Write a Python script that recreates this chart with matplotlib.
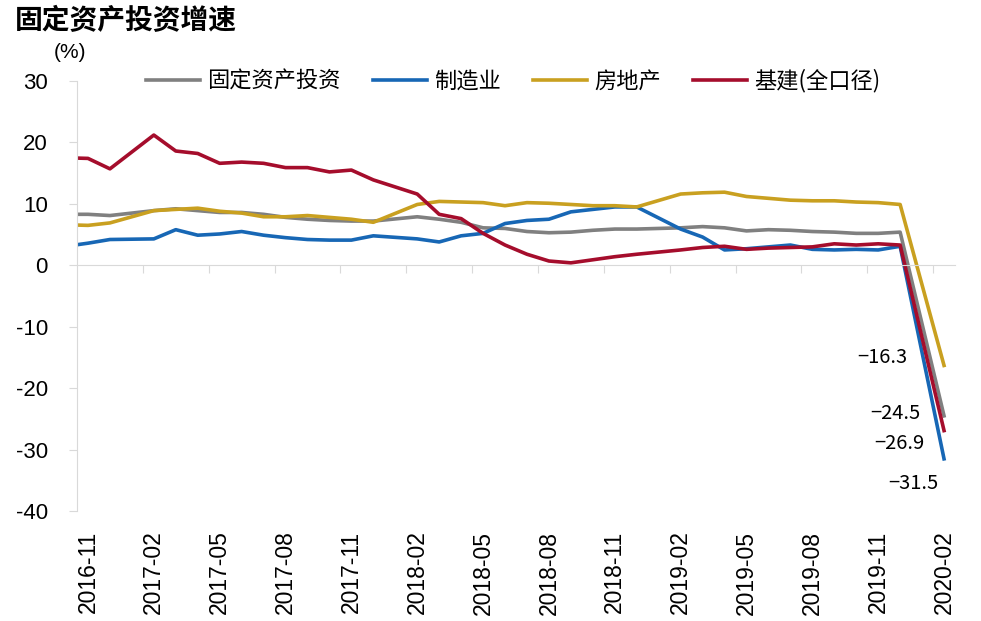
import numpy as np
import matplotlib
matplotlib.use("Agg")
import matplotlib.pyplot as plt

plt.rcParams['font.family'] = ['Liberation Sans', 'Noto Sans CJK SC', 'DejaVu Sans']
plt.rcParams['axes.unicode_minus'] = False

# mesi con dato (gennaio assente), 2016-10 fuori asse
months = ['2016-10', '2016-11', '2016-12',
          '2017-02', '2017-03', '2017-04', '2017-05', '2017-06', '2017-07',
          '2017-08', '2017-09', '2017-10', '2017-11', '2017-12',
          '2018-02', '2018-03', '2018-04', '2018-05', '2018-06', '2018-07',
          '2018-08', '2018-09', '2018-10', '2018-11', '2018-12',
          '2019-02', '2019-03', '2019-04', '2019-05', '2019-06', '2019-07',
          '2019-08', '2019-09', '2019-10', '2019-11', '2019-12',
          '2020-02']

fai = [8.3, 8.3, 8.1,
       8.9, 9.2, 8.9, 8.6, 8.6, 8.3, 7.8, 7.5, 7.3, 7.2, 7.2,
       7.9, 7.5, 7.0, 6.1, 6.0, 5.5, 5.3, 5.4, 5.7, 5.9, 5.9,
       6.1, 6.3, 6.1, 5.6, 5.8, 5.7, 5.5, 5.4, 5.2, 5.2, 5.4,
       -24.5]
manuf = [3.1, 3.6, 4.2,
         4.3, 5.8, 4.9, 5.1, 5.5, 4.9, 4.5, 4.2, 4.1, 4.1, 4.8,
         4.3, 3.8, 4.8, 5.2, 6.8, 7.3, 7.5, 8.7, 9.1, 9.5, 9.5,
         5.9, 4.6, 2.5, 2.7, 3.0, 3.3, 2.6, 2.5, 2.6, 2.5, 3.1,
         -31.5]
estate = [6.6, 6.5, 6.9,
          8.9, 9.1, 9.3, 8.8, 8.5, 7.9, 7.9, 8.1, 7.8, 7.5, 7.0,
          9.9, 10.4, 10.3, 10.2, 9.7, 10.2, 10.1, 9.9, 9.7, 9.7, 9.5,
          11.6, 11.8, 11.9, 11.2, 10.9, 10.6, 10.5, 10.5, 10.3, 10.2, 9.9,
          -16.3]
infra = [17.5, 17.4, 15.7,
         21.2, 18.6, 18.2, 16.6, 16.8, 16.6, 15.9, 15.9, 15.2, 15.5, 13.9,
         11.6, 8.3, 7.6, 5.2, 3.3, 1.8, 0.7, 0.4, 0.9, 1.4, 1.8,
         2.5, 2.9, 3.1, 2.6, 2.8, 2.9, 3.0, 3.5, 3.3, 3.5, 3.3,
         -26.9]

series = [('固定资产投资', fai, '#808080'),
          ('制造业', manuf, '#1767B5'),
          ('房地产', estate, '#C9A020'),
          ('基建(全口径)', infra, '#A50D2C')]

# posizione = mesi trascorsi da 2016-11
def month_pos(m):
    y, mo = m.split('-')
    return (int(y) - 2016) * 12 + int(mo) - 11

x = np.array([month_pos(m) for m in months])
n_cat = month_pos('2020-02') + 1
tick_labels = ['2016-11', '2017-02', '2017-05', '2017-08', '2017-11',
               '2018-02', '2018-05', '2018-08', '2018-11', '2019-02',
               '2019-05', '2019-08', '2019-11', '2020-02']

fig = plt.figure(figsize=(9.81, 6.21), dpi=100)
ax = fig.add_axes([0.0785, 0.177, 0.895, 0.6926])

for name, vals, col in series:
    ax.plot(x, vals, color=col, lw=2.6, label=name, solid_joinstyle='round')

ax.set_xlim(-0.5, n_cat - 0.5)
ax.set_ylim(-40, 30)
ax.set_yticks(np.arange(-40, 31, 10))

grid_col = '#d9d9d9'
for s in ['top', 'right']:
    ax.spines[s].set_visible(False)
ax.spines['left'].set_color(grid_col)
ax.spines['bottom'].set_color(grid_col)
ax.spines['bottom'].set_position(('data', 0))
ax.set_xticks(np.arange(2.5, n_cat - 1, 3))
ax.tick_params(axis='x', length=6, color=grid_col, labelbottom=False)
ax.tick_params(axis='y', length=6, color=grid_col, labelsize=16, pad=15)

sec = ax.secondary_xaxis(0)
sec.set_xticks([month_pos(t) for t in tick_labels], tick_labels)
sec.tick_params(length=0, labelsize=16.5, pad=14, labelrotation=90)
sec.spines['bottom'].set_visible(False)

# etichette valori finali
label_off = [(-35, 1.5), (-22, -18), (-44.5, 6), (-32, -9)]
for (name, vals, col), off in zip(series, label_off):
    ax.annotate(f"{vals[-1]:.1f}".replace('-', '\u2212'),
                xy=(x[-1], vals[-1]), xytext=off, textcoords='offset points',
                ha='center', va='center', fontsize=14.5,
                family=['Noto Sans CJK SC', 'DejaVu Sans'])

leg = ax.legend(loc='center', bbox_to_anchor=(0.4966, 1.0), ncol=4, frameon=False,
                handlelength=2.45, handletextpad=0.3, columnspacing=1.45,
                prop={'family': ['Noto Sans CJK SC'], 'size': 16})

fig.text(0.015, 0.966, '固定资产投资增速', fontsize=20, fontweight='bold',
         family=['Noto Sans CJK SC'], va='center', ha='left')
fig.text(0.071, 0.915, '(%)', fontsize=15, va='center', ha='center')

fig.savefig('out.png', dpi=100)
